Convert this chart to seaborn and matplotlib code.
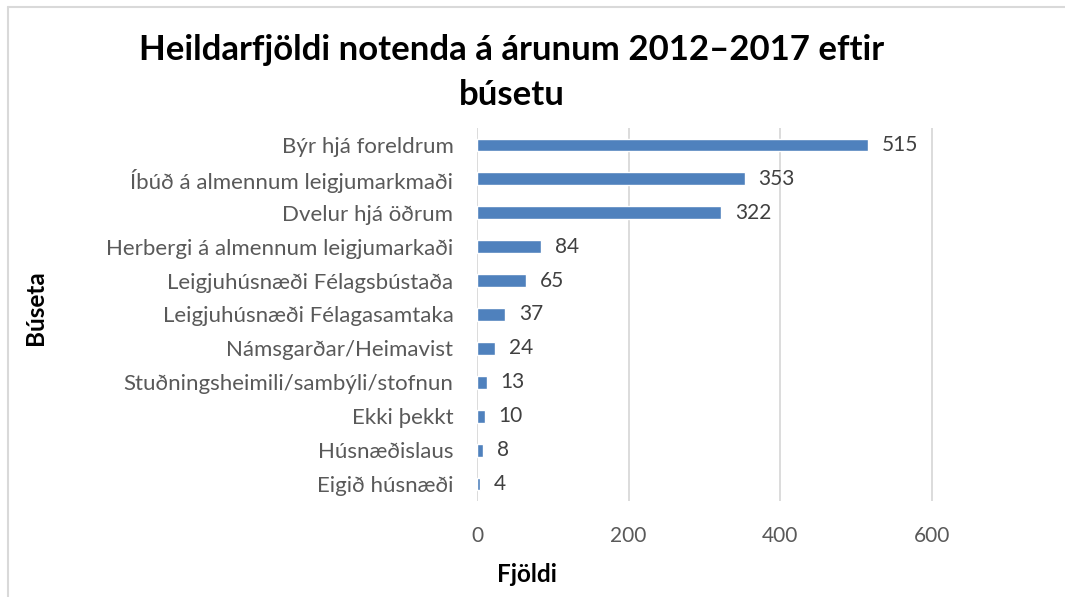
import matplotlib
matplotlib.use("Agg")
import matplotlib.pyplot as plt
import seaborn as sns
import pandas as pd

# data
categories = [
    "Býr hjá foreldrum",
    "Íbúð á almennum leigjumarkmaði",
    "Dvelur hjá öðrum",
    "Herbergi á almennum leigjumarkaði",
    "Leigjuhúsnæði Félagsbústaða",
    "Leigjuhúsnæði Félagasamtaka",
    "Námsgarðar/Heimavist",
    "Stuðningsheimili/sambýli/stofnun",
    "Ekki þekkt",
    "Húsnæðislaus",
    "Eigið húsnæði",
]
counts = [515, 353, 322, 84, 65, 37, 24, 13, 10, 8, 4]
x_ticks = [0, 200, 400, 600]

df = pd.DataFrame({"Búseta": categories, "Fjöldi": counts})

sns.set_theme(style="white")
plt.rcParams["font.family"] = ["Lato", "DejaVu Sans"]

fig = plt.figure(figsize=(10.65, 5.97), dpi=100)
ax = fig.add_axes([477 / 1065, 1 - 501 / 597, 606.7 / 1065, 373 / 597])

sns.barplot(data=df, x="Fjöldi", y="Búseta", orient="h", color="#4F81BD",
            width=0.38, saturation=1, ax=ax, zorder=3)

ax.bar_label(ax.containers[0], labels=[str(v) for v in counts], padding=10,
             fontsize=15, color="#404040")

ax.set_xlim(0, 800)
ax.set_xticks(x_ticks)
ax.grid(axis="x", color="#D9D9D9", linewidth=1.3, zorder=0)
for s in ax.spines.values():
    s.set_visible(False)

ax.tick_params(axis="x", length=0, pad=18, labelsize=15, labelcolor="#595959")
ax.tick_params(axis="y", length=0, pad=17, labelsize=16, labelcolor="#595959")

ax.set_xlabel("")
ax.set_ylabel("")
fig.text(527 / 1065, 1 - 575 / 597, "Fjöldi", ha="center", va="center",
         fontsize=17.5, fontweight="bold", color="black")
fig.text(36 / 1065, 1 - 308 / 597, "Búseta", ha="center", va="center",
         rotation=90, fontsize=17.5, fontweight="bold", color="black")

fig.text(512 / 1065, 1 - 50 / 597, "Heildarfjöldi notenda á árunum 2012–2017 eftir",
         ha="center", va="center", fontsize=25, fontweight="bold", color="black")
fig.text(512 / 1065, 1 - 95 / 597, "búsetu",
         ha="center", va="center", fontsize=25, fontweight="bold", color="black")

# chart frame edges visible in the screenshot
fig.add_artist(plt.Line2D([8 / 1065, 8 / 1065], [0, 1 - 7 / 597],
                          transform=fig.transFigure, color="#D9D9D9", linewidth=1.5))
fig.add_artist(plt.Line2D([8 / 1065, 1], [1 - 7 / 597, 1 - 7 / 597],
                          transform=fig.transFigure, color="#D9D9D9", linewidth=1.5))

fig.savefig("out.png", dpi=100)
